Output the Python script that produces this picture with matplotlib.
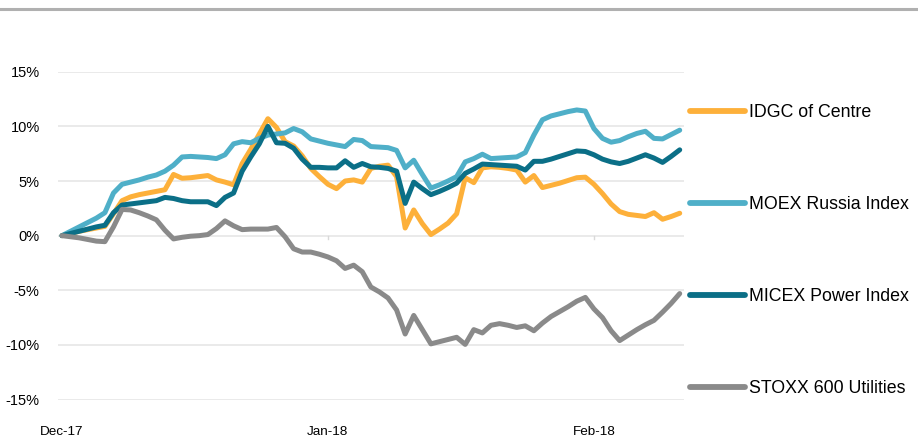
import matplotlib
matplotlib.use("Agg")
import matplotlib.pyplot as plt
import pandas as pd
from matplotlib.lines import Line2D

plt.rcParams['font.family'] = ['Liberation Sans', 'DejaVu Sans']

dates = pd.date_range("2017-12-01", "2018-02-11", freq="D")

idgc = [0, 0.2, 0.4, 0.55, 0.7, 0.85, 2.0, 3.2, 3.55, 3.75,
        3.9, 4.05, 4.2, 5.6, 5.25, 5.3, 5.4, 5.5, 5.1, 4.9,
        4.65, 6.6, 7.9, 9.3, 10.7, 9.9, 8.6, 8.2, 7.3, 6.15,
        5.4, 4.7, 4.3, 5.0, 5.1, 4.9, 6.15, 6.35, 6.45, 5.4,
        0.7, 2.35, 1.1, 0.1, 0.6, 1.15, 2.0, 5.3, 4.85, 6.2,
        6.3, 6.25, 6.15, 6.0, 4.9, 5.5, 4.4, 4.6, 4.8, 5.05,
        5.3, 5.35, 4.7, 3.85, 2.9, 2.2, 1.95, 1.85, 1.75, 2.1,
        1.5, 1.75, 2.05]

moex = [0, 0.4, 0.8, 1.2, 1.6, 2.1, 3.9, 4.7, 4.9, 5.1,
        5.35, 5.55, 5.9, 6.45, 7.2, 7.25, 7.2, 7.15, 7.05, 7.4,
        8.4, 8.6, 8.5, 8.9, 9.2, 9.3, 9.4, 9.8, 9.5, 8.85,
        8.65, 8.45, 8.3, 8.15, 8.8, 8.7, 8.15, 8.1, 8.05, 7.8,
        6.2, 6.9, 5.6, 4.35, 4.65, 5.0, 5.4, 6.75, 7.05, 7.45,
        7.05, 7.1, 7.15, 7.2, 7.6, 9.2, 10.6, 10.95, 11.15, 11.35,
        11.5, 11.4, 9.8, 8.9, 8.55, 8.7, 9.05, 9.35, 9.55, 8.9,
        8.85, 9.25, 9.65]

micex = [0, 0.2, 0.4, 0.6, 0.8, 0.95, 2.1, 2.8, 2.9, 3.0,
         3.1, 3.2, 3.5, 3.4, 3.2, 3.1, 3.1, 3.1, 2.75, 3.5,
         3.9, 5.9, 7.2, 8.4, 10.0, 8.5, 8.45, 8.0, 7.0, 6.25,
         6.25, 6.2, 6.2, 6.85, 6.25, 6.6, 6.3, 6.25, 6.15, 5.9,
         2.95, 4.9, 4.3, 3.75, 4.05, 4.4, 4.8, 5.7, 6.1, 6.55,
         6.5, 6.45, 6.4, 6.35, 6.0, 6.8, 6.8, 7.0, 7.25, 7.5,
         7.75, 7.7, 7.4, 7.0, 6.75, 6.6, 6.8, 7.1, 7.4, 7.1,
         6.7, 7.25, 7.85]

stoxx = [0, -0.1, -0.2, -0.35, -0.5, -0.55, 0.8, 2.4, 2.35, 2.1,
         1.8, 1.45, 0.5, -0.3, -0.15, -0.05, 0.0, 0.1, 0.65, 1.35,
         0.9, 0.55, 0.6, 0.6, 0.6, 0.75, -0.1, -1.2, -1.5, -1.5,
         -1.7, -1.95, -2.3, -3.0, -2.7, -3.3, -4.7, -5.15, -5.7, -6.8,
         -9.0, -7.3, -8.6, -9.9, -9.7, -9.5, -9.3, -9.95, -8.6, -8.9,
         -8.2, -8.05, -8.2, -8.4, -8.25, -8.7, -8.0, -7.4, -6.95, -6.5,
         -6.0, -5.65, -6.7, -7.5, -8.7, -9.6, -9.1, -8.6, -8.15, -7.75,
         -7.0, -6.2, -5.3]

series_names = ["IDGC of Centre", "MOEX Russia Index", "MICEX Power Index", "STOXX 600 Utilities"]
series_values = [idgc, moex, micex, stoxx]
colors = ["#FDB03A", "#4FAFC8", "#0B6F87", "#8A8A8A"]

y_ticks = [-15, -10, -5, 0, 5, 10, 15]
y_labels = ["-15%", "-10%", "-5%", "0%", "5%", "10%", "15%"]
x_tick_dates = pd.to_datetime(["2017-12-01", "2018-01-01", "2018-02-01"])
x_labels = ["Dec-17", "Jan-18", "Feb-18"]

W, H = 918, 436
fig = plt.figure(figsize=(W / 100, H / 100), dpi=100)
ax = fig.add_axes([57.7 / W, (H - 399.6) / H, (684 - 57.7) / W, (399.6 - 71.7) / H])

for name, vals, c in zip(series_names, series_values, colors):
    ax.plot(dates, vals, color=c, lw=3.6, solid_capstyle='round',
            solid_joinstyle='round', label=name, zorder=3)

ax.set_ylim(-15, 15)
ax.set_xlim(dates[0] - pd.Timedelta(hours=12), dates[-1] + pd.Timedelta(hours=12))
ax.set_yticks(y_ticks)
ax.set_yticklabels(y_labels, fontsize=10.5)
for yv in y_ticks:
    ax.axhline(yv, color="#e6e6e6", lw=1.2, zorder=1)
ax.tick_params(axis='y', length=0, pad=13)

ax.set_xticks(x_tick_dates)
ax.set_xticklabels([])
for xd in x_tick_dates[1:]:
    ax.plot([xd, xd], [-0.35, 0], color="#d9d9d9", lw=1, zorder=1)
for xd, lab in zip(x_tick_dates, x_labels):
    ax.text(xd, -17.95, lab, ha='center', va='center', fontsize=9.7, clip_on=False)
ax.tick_params(axis='x', length=0)

for s in ax.spines.values():
    s.set_visible(False)

fig.add_artist(Line2D([0, 1], [1 - 9 / H, 1 - 9 / H], color="#b0b0b0", lw=2.2))

leg = fig.legend(loc='upper left', bbox_to_anchor=(690 / W, 1 - 104 / H),
                 frameon=False, fontsize=12.8, handlelength=3.1, handletextpad=0.22,
                 labelspacing=4.22, borderpad=0, borderaxespad=0)
for line in leg.get_lines():
    line.set_linewidth(4.2)
    line.set_solid_capstyle('round')

fig.savefig("out.png", dpi=100)
